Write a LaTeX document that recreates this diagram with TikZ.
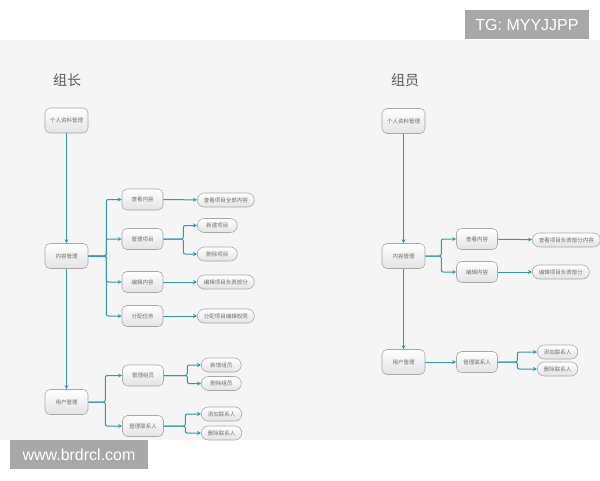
\documentclass[tikz,border=0pt]{standalone}
\usepackage{fontspec}
\setmainfont{Noto Sans CJK SC}
\newfontfamily\latinfont{Liberation Sans}
\usetikzlibrary{arrows.meta}

\definecolor{bgcol}{HTML}{F5F5F5}
\definecolor{linkcol}{RGB}{50,152,172}
\definecolor{boxline}{HTML}{A8A8A8}
\definecolor{txtcol}{HTML}{6E6E6E}
\definecolor{stampcol}{HTML}{A8A8A8}

\tikzset{
  box/.style={draw=boxline, top color=white, bottom color=gray!22, text=txtcol,
    font=\fontsize{5.5}{6}\selectfont, inner sep=0pt, line width=0.6pt},
  topbox/.style={box, rounded corners=5pt, minimum width=43pt, minimum height=25pt},
  midbox/.style={box, rounded corners=5pt, minimum width=41pt, minimum height=21pt},
  leafbox/.style={box, rounded corners=7pt, minimum width=40pt, minimum height=14pt,
    inner xsep=6.5pt, anchor=west},
  link/.style={draw=linkcol, line width=1pt, rounded corners=2pt,
    -{Stealth[length=4pt,width=4pt]}},
  title/.style={font=\fontsize{14}{14}\selectfont, text=black!65},
  stamp/.style={fill=stampcol, text=white, inner sep=0pt,
    font=\latinfont\fontsize{16}{16}\selectfont}
}

\begin{document}
\begin{tikzpicture}[x=1pt,y=-1pt]
  \useasboundingbox (0,0) rectangle (600,480);
  \fill[white] (0,0) rectangle (600,480);
  \fill[bgcol] (0,40) rectangle (600,440);

  % watermarks
  \node[stamp, minimum width=124pt, minimum height=29pt] (tg) at (527,24.5) {TG: MYYJJPP};
  \node[stamp, minimum width=138pt, minimum height=29pt] (www) at (79,454.5) {www.brdrcl.com};

  % left: group leader
  \node[title] (lead) at (67,80) {组长};
  \node[topbox] (lprof) at (66.5,120.5) {个人资料管理};
  \node[topbox] (lcont) at (66.5,256) {内容管理};
  \node[topbox] (luser) at (66.5,402) {用户管理};

  \node[midbox] (lview) at (142.5,199.5) {查看内容};
  \node[midbox] (lproj) at (142.5,239) {管理项目};
  \node[midbox] (ledit) at (142.5,282) {编辑内容};
  \node[midbox] (ltask) at (142.5,316) {分配任务};
  \node[midbox] (lmem) at (143,375.5) {管理组员};
  \node[midbox] (lcon) at (143,426) {管理联系人};

  \node[leafbox] (lviewall) at (197,200) {查看项目全部内容};
  \node[leafbox] (lnew) at (197,225.5) {新建项目};
  \node[leafbox] (ldel) at (197,254) {删除项目};
  \node[leafbox] (leditpart) at (197,282) {编辑项目负责部分};
  \node[leafbox] (lgrant) at (197,316) {分配项目编辑权限};
  \node[leafbox] (laddmem) at (201,365) {新增组员};
  \node[leafbox] (ldelmem) at (201,383.5) {删除组员};
  \node[leafbox] (laddcon) at (201,414) {添加联系人};
  \node[leafbox] (ldelcon) at (201,433) {删除联系人};

  \draw[link] (lprof) -- (lcont);
  \draw[link] (lcont) -- (luser);
  \foreach \n in {lview,lproj,ledit,ltask}
    \draw[link] (lcont.east) -- ++(18,0) |- (\n.west);
  \foreach \n in {lmem,lcon}
    \draw[link] (luser.east) -- ++(17,0) |- (\n.west);
  \draw[link] (lview) -- (lviewall);
  \draw[link] (ledit) -- (leditpart);
  \draw[link] (ltask) -- (lgrant);
  \foreach \n in {lnew,ldel}
    \draw[link] (lproj.east) -- ++(20,0) |- (\n.west);
  \foreach \n in {laddmem,ldelmem}
    \draw[link] (lmem.east) -- ++(23.5,0) |- (\n.west);
  \foreach \n in {laddcon,ldelcon}
    \draw[link] (lcon.east) -- ++(21.5,0) |- (\n.west);

  % right: group member
  \node[title] (memb) at (405,80) {组员};
  \node[topbox] (rprof) at (403.5,121) {个人资料管理};
  \node[topbox] (rcont) at (403.5,256) {内容管理};
  \node[topbox] (ruser) at (403.5,362) {用户管理};

  \node[midbox] (rview) at (477,239) {查看内容};
  \node[midbox] (redit) at (477,272) {编辑内容};
  \node[midbox] (rcon) at (477,362) {管理联系人};

  \node[leafbox] (rviewpart) at (532,240) {查看项目负责部分内容};
  \node[leafbox] (reditpart) at (532,272) {编辑项目负责部分};
  \node[leafbox] (raddcon) at (537,352) {添加联系人};
  \node[leafbox] (rdelcon) at (537,369) {删除联系人};

  \draw[link] (rprof) -- (rcont);
  \draw[link] (rcont) -- (ruser);
  \foreach \n in {rview,redit}
    \draw[link] (rcont.east) -- ++(16,0) |- (\n.west);
  \draw[link] (rview) -- (rviewpart);
  \draw[link] (redit) -- (reditpart);
  \draw[link] (ruser) -- (rcon);
  \foreach \n in {raddcon,rdelcon}
    \draw[link] (rcon.east) -- ++(19.5,0) |- (\n.west);
\end{tikzpicture}
\end{document}
